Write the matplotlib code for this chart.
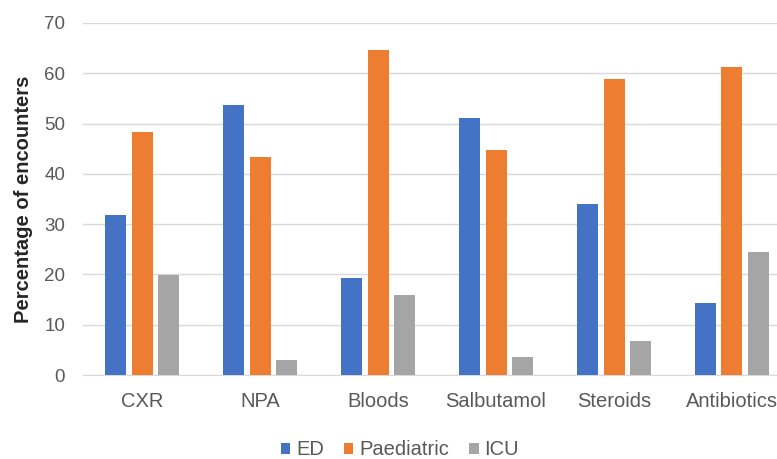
import numpy as np
import matplotlib.pyplot as plt

categories = ["CXR", "NPA", "Bloods", "Salbutamol", "Steroids", "Antibiotics"]
ed = [31.8, 53.7, 19.2, 51.2, 34.0, 14.3]
paediatric = [48.4, 43.4, 64.7, 44.7, 58.9, 61.2]
icu = [19.8, 2.9, 15.9, 3.6, 6.8, 24.5]

series = [("ED", ed, "#4472C4"),
          ("Paediatric", paediatric, "#ED7D31"),
          ("ICU", icu, "#A5A5A5")]

plt.rcParams['font.family'] = ['Liberation Sans', 'DejaVu Sans']

fig = plt.figure(figsize=(7.77, 4.59), dpi=100)
ax = fig.add_axes([0.107, 0.183, 0.911, 0.767])

x = np.arange(len(categories))
w = 0.178
step = 0.225
for i, (name, vals, col) in enumerate(series):
    ax.bar(x + (i - 1) * step, vals, w, color=col, label=name, zorder=3)

ax.set_xlim(-0.5, len(categories) - 0.5)
ax.set_ylim(0, 70)
ax.set_yticks(range(0, 71, 10))
ax.set_xticks(x)
ax.set_xticklabels(categories)
ax.grid(axis='y', color='#d9d9d9', linewidth=1, zorder=0)
for s in ['top', 'right', 'left']:
    ax.spines[s].set_visible(False)
ax.spines['bottom'].set_color('#d9d9d9')
ax.tick_params(axis='both', length=0, colors='#595959')
ax.tick_params(axis='x', labelsize=14.5, pad=12)
ax.tick_params(axis='y', labelsize=13.5, pad=13)
ax.set_ylabel("Percentage of encounters", fontsize=14.5, fontweight='bold',
              color='#262626')
ax.yaxis.set_label_coords(-0.071, 0.5)

fig.legend(loc='center', bbox_to_anchor=(0.515, 0.02), ncol=3, frameon=False,
           fontsize=14.5, handlelength=0.45, handleheight=0.45, handletextpad=0.3,
           columnspacing=1.0, labelcolor='#595959')

fig.savefig("out.png", dpi=100)
